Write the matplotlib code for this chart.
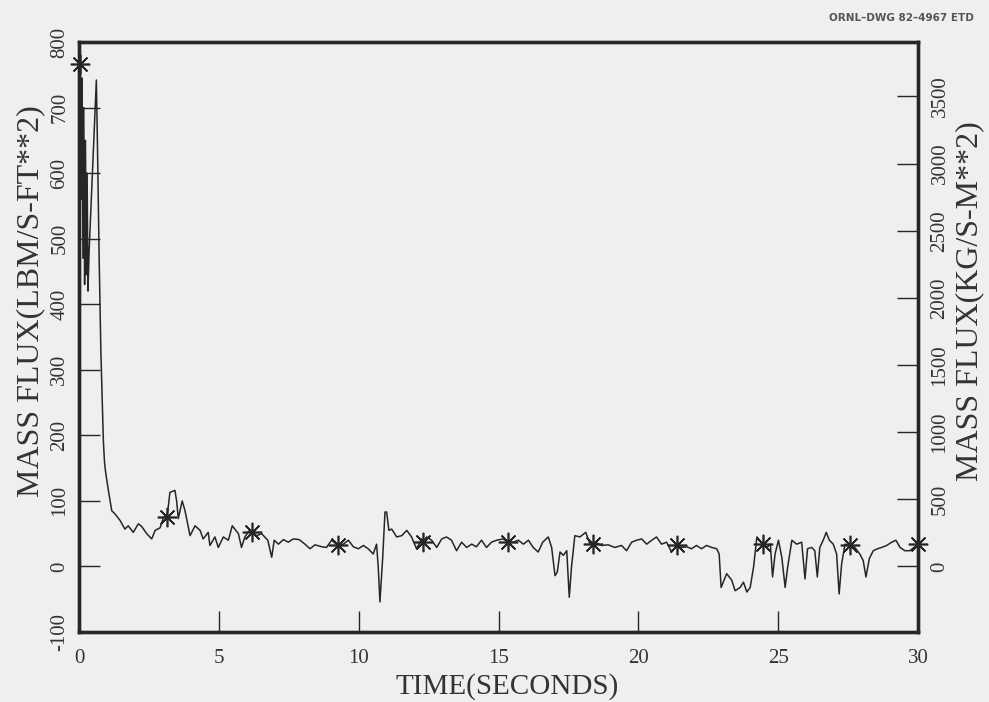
import matplotlib.pyplot as plt
import numpy as np

# mass flux trace, time in seconds, flux in lbm/s-ft**2
time_s = [
    0.05, 0.08, 0.11, 0.14, 0.17, 0.20, 0.23, 0.26, 0.29, 0.32, 0.36,
    0.62, 0.66, 0.72, 0.78, 0.83, 0.87, 0.91, 0.95, 1.05, 1.17, 1.29,
    1.47, 1.64, 1.76, 1.94, 2.12, 2.24, 2.42, 2.60, 2.72, 2.90, 3.02,
    3.10, 3.17, 3.25, 3.43, 3.49, 3.55, 3.69, 3.79, 3.97, 4.15, 4.33,
    4.44, 4.62, 4.68, 4.86, 4.98, 5.16, 5.34, 5.48, 5.70, 5.81, 5.93,
    6.11, 6.18, 6.35, 6.53, 6.75, 6.89, 6.98, 7.13, 7.31, 7.48, 7.66,
    7.87, 8.08, 8.26, 8.44, 8.68, 8.85, 9.03, 9.26, 9.45, 9.63, 9.81,
    9.99, 10.17, 10.34, 10.52, 10.64, 10.70, 10.76, 10.86, 10.94, 11.00,
    11.08, 11.18, 11.36, 11.54, 11.72, 11.89, 12.07, 12.25, 12.30, 12.43,
    12.61, 12.79, 12.97, 13.14, 13.32, 13.50, 13.68, 13.86, 14.04, 14.21,
    14.39, 14.57, 14.75, 14.93, 15.17, 15.34, 15.53, 15.71, 15.89, 16.07,
    16.24, 16.42, 16.58, 16.78, 16.90, 17.02, 17.10, 17.20, 17.32, 17.44,
    17.53, 17.61, 17.73, 17.91, 18.12, 18.27, 18.38, 18.45, 18.69, 18.92,
    19.16, 19.40, 19.58, 19.76, 19.94, 20.12, 20.30, 20.48, 20.65, 20.83,
    21.01, 21.19, 21.37, 21.55, 21.73, 21.90, 22.08, 22.26, 22.44, 22.62,
    22.80, 22.89, 22.96, 23.16, 23.34, 23.46, 23.64, 23.76, 23.88, 24.00,
    24.12, 24.24, 24.46, 24.60, 24.72, 24.80, 24.89, 25.01, 25.13, 25.25,
    25.34, 25.49, 25.66, 25.84, 25.96, 26.05, 26.20, 26.31, 26.40, 26.49,
    26.61, 26.72, 26.83, 26.97, 27.09, 27.18, 27.27, 27.39, 27.56, 27.74,
    27.92, 28.04, 28.14, 28.26, 28.40, 28.55, 28.70, 28.88, 29.06, 29.21,
    29.36, 29.53, 29.71, 30.00,
]
flux_lbm = [
    766, 560, 745, 470, 700, 430, 650, 445, 600, 420, 480,
    742, 640, 470, 330, 250, 192, 160, 144, 116, 85, 80,
    70, 57, 62, 52, 65, 61, 50, 42, 55, 59, 75,
    76, 83, 113, 116, 100, 73, 100, 85, 47, 62, 55,
    42, 52, 32, 45, 29, 45, 40, 62, 50, 29, 45,
    56, 52, 47, 50, 40, 14, 40, 34, 41, 37, 42,
    41, 34, 27, 33, 30, 29, 40, 32, 34, 40, 30,
    27, 32, 27, 19, 34, -1, -54, 14, 83, 83,
    55, 57, 45, 47, 55, 45, 27, 42, 37, 45,
    40, 29, 42, 45, 40, 24, 37, 29, 34, 30,
    40, 29, 37, 40, 42, 37, 37, 40, 34, 40,
    29, 22, 37, 45, 29, -14, -9, 22, 17, 24,
    -47, -1, 47, 45, 52, 34, 34, 37, 32, 33,
    29, 32, 24, 37, 40, 42, 34, 40, 45, 34,
    37, 22, 32, 29, 30, 27, 32, 27, 32, 29,
    27, 19, -32, -11, -21, -37, -32, -24, -39, -32,
    -1, 45, 34, 29, 34, -16, 19, 40, 14, -32,
    -1, 40, 34, 37, -19, 27, 29, 24, -16, 29,
    40, 52, 40, 34, 19, -42, 4, 34, 32, 29,
    19, 9, -16, 12, 24, 27, 29, 32, 37, 40,
    29, 24, 24, 34,
]

# symbol positions along the trace
mark_time = [0.05, 3.14, 6.18, 9.26, 12.30, 15.34, 18.38, 21.37, 24.46, 27.56, 30.00]
mark_flux = [766, 76, 52, 32, 37, 37, 34, 32, 34, 32, 34]

LBM_FT2_TO_KG_M2 = 4.8824

bg = "#efefed"
ink = "#262626"
txt = "#333333"
plt.rcParams["font.family"] = ["Liberation Serif", "DejaVu Serif"]
plt.rcParams["axes.unicode_minus"] = False

fig = plt.figure(figsize=(9.89, 7.02), dpi=100, facecolor=bg)
ax = fig.add_axes([0.0799, 0.0997, 0.8483, 0.8405], facecolor=bg)

ax.plot(time_s, flux_lbm, color=ink, linewidth=1.1)
ax.plot(mark_time, mark_flux, linestyle="none", marker=(8, 2, 0),
        markersize=14, markeredgewidth=1.2, color=ink, clip_on=False, zorder=5)

ax.set_xlim(0, 30)
ax.set_ylim(-100, 800)
ax.set_xticks(np.arange(0, 31, 5))
ax.set_yticks(np.arange(-100, 801, 100))
ax.tick_params(axis="both", direction="in", length=15, width=1.0, color=ink,
               labelsize=15, labelcolor=txt, top=False, right=False)
ax.tick_params(axis="x", pad=12)
ax.tick_params(axis="y", labelrotation=90, pad=7)
for lab in ax.get_yticklabels():
    lab.set_va("center")

ax.set_xlabel("TIME(SECONDS)", fontsize=21, color=txt, labelpad=4)
ax.set_ylabel("MASS FLUX(LBM/S-FT**2)", fontsize=23, color=txt, labelpad=4)
ax.xaxis.label.set_x(0.51)
ax.yaxis.label.set_y(0.56)

# right axis in SI units
ax2 = ax.twinx()
ax2.set_ylim(-100 * LBM_FT2_TO_KG_M2, 800 * LBM_FT2_TO_KG_M2)
ax2.set_yticks(np.arange(0, 3501, 500))
ax2.tick_params(axis="y", direction="in", length=15, width=1.0, color=ink,
                labelsize=15, labelcolor=txt, labelrotation=90, pad=9)
for lab in ax2.get_yticklabels():
    lab.set_va("center")
ax2.set_ylabel("MASS FLUX(KG/S-M**2)", fontsize=23, color=txt,
               rotation=90, labelpad=4)
ax2.yaxis.label.set_y(0.56)

for a in (ax, ax2):
    for sp in a.spines.values():
        sp.set_linewidth(2.4)
        sp.set_color(ink)

fig.text(0.985, 0.982, "ORNL\u2013DWG 82\u20134967 ETD", ha="right", va="top",
         fontsize=7.5, family="DejaVu Sans", fontweight="bold", color="#555555")

fig.savefig("out.png", dpi=100, facecolor=bg)
